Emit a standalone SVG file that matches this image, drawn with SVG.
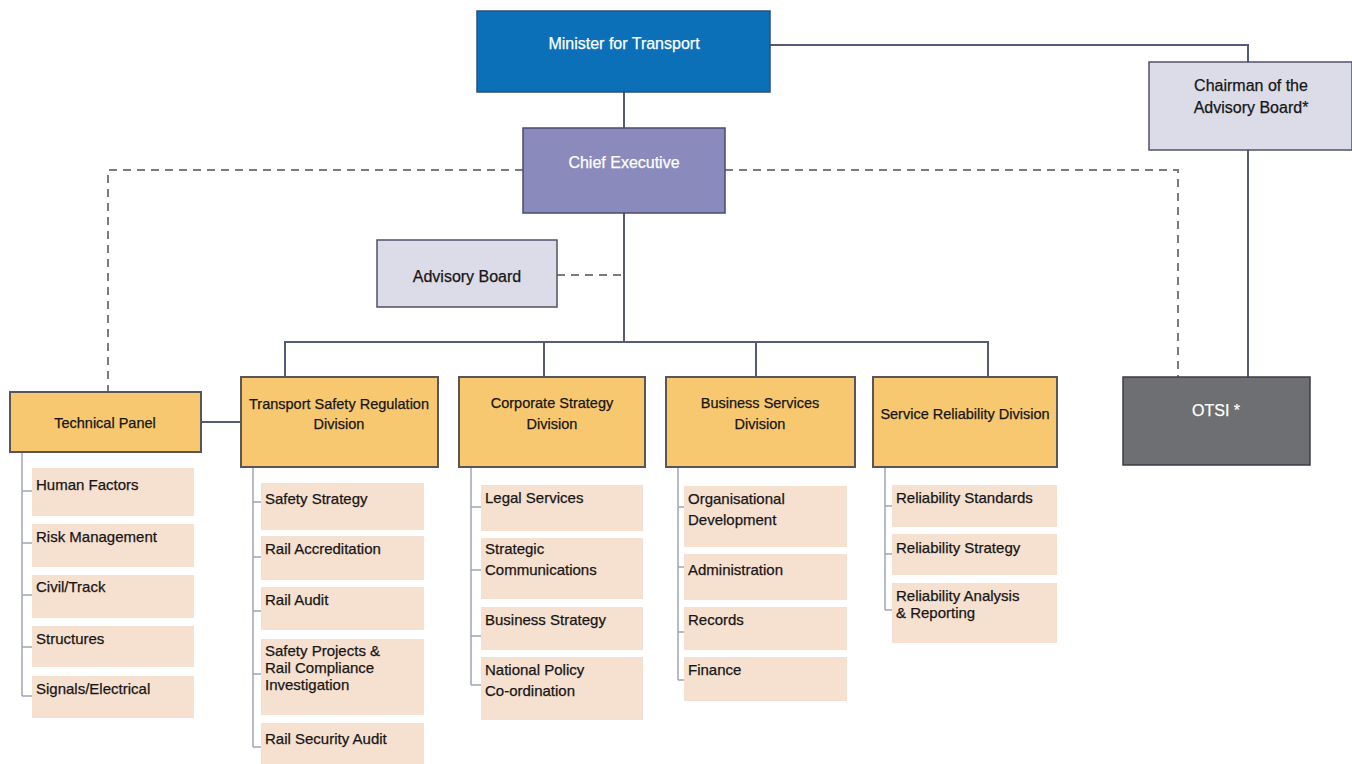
<svg xmlns="http://www.w3.org/2000/svg" width="1352" height="764" viewBox="0 0 1352 764">
<style>
text{font-family:"Liberation Sans",Arial,sans-serif;font-size:15px;fill:#161616;stroke:#161616;stroke-width:0.25}
.w{fill:#ffffff;stroke:#ffffff;font-size:16px}
.h{font-size:14.5px}
.b{font-size:16px}
.c{text-anchor:middle}
.div{fill:#f7c86f;stroke:#5a5656;stroke-width:2}
.sub{fill:#f6e0cf}
.ln{fill:none;stroke:#55597a;stroke-width:2}
.sl{fill:none;stroke:#9ea5b5;stroke-width:1.5}
.dash{fill:none;stroke:#7a7a82;stroke-width:2;stroke-dasharray:8,6}
</style>
<g id="connectors">
<path class="ln" d="M624,92V128M770,45H1248V62M1248,150V377M624,213V342M285,377V342H988V377M544,342V377M756,342V377M201,422H241"/>
<path class="dash" d="M523,170H108V392M725,170H1178V377M557,275H624"/>
<path class="sl" d="M22,452V696M22,491H32M22,543H32M22,595H32M22,647H32M22,696H32"/>
<path class="sl" d="M253,467V747M253,502H261M253,557H261M253,611H261M253,674H261M253,747H261"/>
<path class="sl" d="M471,467V685M471,507H481M471,570H481M471,636H481M471,685H481"/>
<path class="sl" d="M678,467V680M678,507H684M678,567H684M678,632H684M678,680H684"/>
<path class="sl" d="M885,467V610M885,506H892M885,554H892M885,610H892"/>
</g>
<g id="minister"><rect x="477" y="11" width="293" height="81" fill="#0b70b7" stroke="#2b4f7a" stroke-width="1.5"/><text class="w c" x="624" y="49">Minister for Transport</text></g>
<g id="chief"><rect x="523" y="128" width="202" height="85" fill="#8a8abd" stroke="#4a4a70" stroke-width="1.5"/><text class="w c" x="624" y="168">Chief Executive</text></g>
<g id="chairman"><rect x="1149" y="62" width="203" height="88" fill="#dcdce8" stroke="#50506a" stroke-width="1.5"/><text class="b c" x="1251" y="91">Chairman of the</text><text class="b c" x="1251" y="113">Advisory Board*</text></g>
<g id="otsi"><rect x="1123" y="377" width="187" height="88" fill="#6e6f73" stroke="#3c3c44" stroke-width="1.5"/><text class="w c" x="1216" y="416">OTSI *</text></g>
<g id="advisory"><rect x="377" y="240" width="180" height="67" fill="#dcdce8" stroke="#50506a" stroke-width="1.5"/><text class="b c" x="467" y="282">Advisory Board</text></g>
<g id="technical"><rect class="div" x="10" y="392" width="191" height="60"/><text class="h c" x="105" y="428">Technical Panel</text></g>
<g id="tsrd"><rect class="div" x="241" y="377" width="197" height="90"/><text class="h c" x="339" y="409">Transport Safety Regulation</text><text class="h c" x="339" y="429">Division</text></g>
<g id="csd"><rect class="div" x="459" y="377" width="186" height="90"/><text class="h c" x="552" y="408">Corporate Strategy</text><text class="h c" x="552" y="429">Division</text></g>
<g id="bsd"><rect class="div" x="666" y="377" width="189" height="90"/><text class="h c" x="760" y="408">Business Services</text><text class="h c" x="760" y="429">Division</text></g>
<g id="srd"><rect class="div" x="873" y="377" width="184" height="90"/><text class="h c" x="965" y="419">Service Reliability Division</text></g>
<g id="tp-items">
<rect class="sub" x="32" y="468" width="162" height="48"/><text x="36" y="490">Human Factors</text>
<rect class="sub" x="32" y="524" width="162" height="43"/><text x="36" y="542">Risk Management</text>
<rect class="sub" x="32" y="575" width="162" height="43"/><text x="36" y="592">Civil/Track</text>
<rect class="sub" x="32" y="626" width="162" height="41"/><text x="36" y="644">Structures</text>
<rect class="sub" x="32" y="676" width="162" height="42"/><text x="36" y="694">Signals/Electrical</text>
</g>
<g id="tsrd-items">
<rect class="sub" x="261" y="483" width="163" height="47"/><text x="265" y="504">Safety Strategy</text>
<rect class="sub" x="261" y="536" width="163" height="44"/><text x="265" y="554">Rail Accreditation</text>
<rect class="sub" x="261" y="587" width="163" height="43"/><text x="265" y="605">Rail Audit</text>
<rect class="sub" x="261" y="639" width="163" height="76"/><text x="265" y="656">Safety Projects &amp;</text><text x="265" y="673">Rail Compliance</text><text x="265" y="690">Investigation</text>
<rect class="sub" x="261" y="723" width="163" height="41"/><text x="265" y="744">Rail Security Audit</text>
</g>
<g id="csd-items">
<rect class="sub" x="481" y="485" width="162" height="46"/><text x="485" y="503">Legal Services</text>
<rect class="sub" x="481" y="538" width="162" height="61"/><text x="485" y="554">Strategic</text><text x="485" y="575">Communications</text>
<rect class="sub" x="481" y="607" width="162" height="43"/><text x="485" y="625">Business Strategy</text>
<rect class="sub" x="481" y="657" width="162" height="63"/><text x="485" y="675">National Policy</text><text x="485" y="696">Co-ordination</text>
</g>
<g id="bsd-items">
<rect class="sub" x="684" y="486" width="163" height="61"/><text x="688" y="504">Organisational</text><text x="688" y="525">Development</text>
<rect class="sub" x="684" y="554" width="163" height="46"/><text x="688" y="575">Administration</text>
<rect class="sub" x="684" y="607" width="163" height="43"/><text x="688" y="625">Records</text>
<rect class="sub" x="684" y="657" width="163" height="44"/><text x="688" y="675">Finance</text>
</g>
<g id="srd-items">
<rect class="sub" x="892" y="485" width="165" height="42"/><text x="896" y="503">Reliability Standards</text>
<rect class="sub" x="892" y="534" width="165" height="41"/><text x="896" y="553">Reliability Strategy</text>
<rect class="sub" x="892" y="583" width="165" height="60"/><text x="896" y="601">Reliability Analysis</text><text x="896" y="618">&amp; Reporting</text>
</g>
</svg>
